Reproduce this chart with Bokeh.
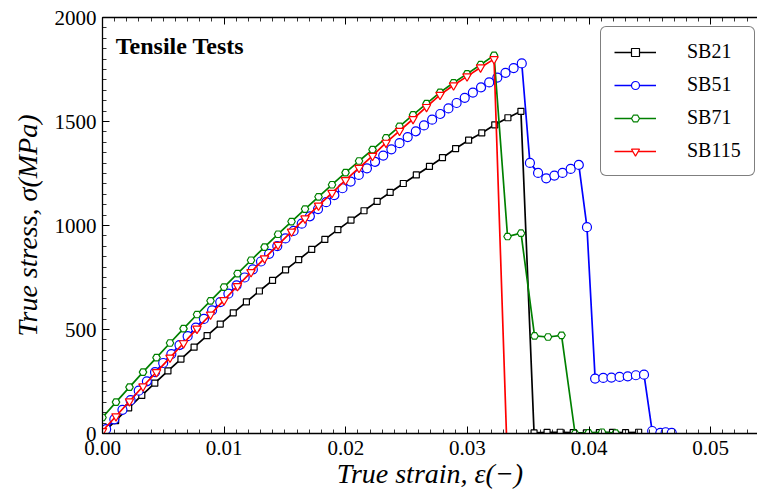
from bokeh.plotting import figure
from bokeh.models import (Range1d, LinearAxis, SingleIntervalTicker, PrintfTickFormatter,
                          CustomJSTickFormatter, Legend, LegendItem, Label)
from bokeh.embed import file_html
from bokeh.resources import INLINE

# ---------------- data ----------------
sb21_strain = [0.0, 0.00108, 0.00215, 0.00323, 0.0043, 0.00538, 0.00645, 0.00753, 0.0086, 0.00968,
               0.01075, 0.01183, 0.0129, 0.01398, 0.01505, 0.01613, 0.0172, 0.01828, 0.01935, 0.02043,
               0.0215, 0.02258, 0.02365, 0.02473, 0.0258, 0.02688, 0.02795, 0.02903, 0.0301, 0.03118,
               0.03225, 0.03333, 0.0344,
               0.03548, 0.03655, 0.03763, 0.0387, 0.03978, 0.04085, 0.04193, 0.043, 0.04408]
sb21_stress = [0, 62, 123, 183, 242, 301, 358, 415, 471, 526,
               580, 633, 685, 736, 787, 836, 885, 933, 980, 1026,
               1071, 1116, 1159, 1202, 1243, 1284, 1326, 1370, 1410, 1445,
               1484, 1518, 1549,
               3, 5, 6, 4, 3, 4, 5, 4, 6]

sb51_strain = [0.0003, 0.00097, 0.00164, 0.00231, 0.00298, 0.00365, 0.00432, 0.00499, 0.00566, 0.00633,
               0.007, 0.00767, 0.00834, 0.00901, 0.00968, 0.01035, 0.01102, 0.01169, 0.01236, 0.01303,
               0.0137, 0.01437, 0.01504, 0.01571, 0.01638, 0.01705, 0.01772, 0.01839, 0.01906, 0.01973,
               0.0204, 0.02107, 0.02174, 0.02241, 0.02308, 0.02375, 0.02442, 0.02509, 0.02576, 0.02643,
               0.0271, 0.02777, 0.02844, 0.02911, 0.02978, 0.03045, 0.03112, 0.03179, 0.03246, 0.03313,
               0.0338, 0.03447,
               0.03514, 0.03581, 0.03648, 0.03715, 0.03782, 0.03849, 0.03916, 0.03983, 0.0405, 0.04117,
               0.04184, 0.04251, 0.04318, 0.04385, 0.04452, 0.04519, 0.04586, 0.0463, 0.0468]
sb51_stress = [21, 68, 114, 160, 206, 251, 295, 339, 382, 425,
               468, 509, 551, 592, 632, 672, 712, 750, 789, 827,
               864, 901, 938, 974, 1009, 1044, 1079, 1112, 1146, 1179,
               1211, 1243, 1275, 1306, 1336, 1366, 1396, 1425, 1453, 1481,
               1509, 1536, 1563, 1589, 1614, 1639, 1664, 1688, 1711, 1734,
               1757, 1779,
               1301, 1253, 1227, 1240, 1253, 1272, 1291, 992, 264, 267,
               269, 272, 275, 280, 283, 12, 3, 6, 3]

sb71_strain = [0.0, 0.00111, 0.00222, 0.00333, 0.00444, 0.00555, 0.00666, 0.00777, 0.00888, 0.00999,
               0.0111, 0.01221, 0.01332, 0.01443, 0.01554, 0.01665, 0.01776, 0.01887, 0.01998, 0.02109,
               0.0222, 0.02331, 0.02442, 0.02553, 0.02664, 0.02775, 0.02886, 0.02997, 0.03108, 0.03219,
               0.0333, 0.03441, 0.03552, 0.03663, 0.03774, 0.03885, 0.03996, 0.04107, 0.04218]
sb71_stress = [77, 151, 223, 295, 365, 435, 504, 572, 638, 704,
               769, 833, 896, 958, 1019, 1079, 1138, 1196, 1254, 1310,
               1365, 1421, 1477, 1532, 1586, 1640, 1686, 1729, 1773, 1818,
               947, 963, 469, 464, 472, 0, 3, 6, 2]

sb115_strain = [0.0, 0.00111, 0.00222, 0.00333, 0.00444, 0.00555, 0.00666, 0.00777, 0.00888, 0.00999,
                0.0111, 0.01221, 0.01332, 0.01443, 0.01554, 0.01665, 0.01776, 0.01887, 0.01998, 0.02109,
                0.0222, 0.02331, 0.02442, 0.02553, 0.02664, 0.02775, 0.02886, 0.02997, 0.03108, 0.03219,
                0.03338]
sb115_stress = [12, 83, 155, 227, 295, 365, 434, 504, 572, 641,
                709, 776, 842, 907, 971, 1034, 1096, 1157, 1218, 1277,
                1335, 1398, 1455, 1512, 1570, 1628, 1674, 1717, 1760, 1800,
                -300]

x_ticks_interval = 0.01
y_ticks_interval = 500
series_names = ["SB21", "SB51", "SB71", "SB115"]
title_text = "Tensile Tests"
x_label_text = "True strain, ε(−)"
y_label_text = "True stress, σ(MPa)"

# ---------------- figure ----------------
FONT = "Liberation Serif"

p = figure(width=757, height=496, output_backend="svg", toolbar_location=None,
           x_range=Range1d(0, 0.05385), y_range=Range1d(0, 2000),
           x_axis_type=None, y_axis_type=None,
           min_border_left=102, min_border_right=0, min_border_top=17, min_border_bottom=63)
p.outline_line_color = None
p.background_fill_color = "white"
p.border_fill_color = "white"


def make_axis(ticker, formatter):
    ax = LinearAxis(ticker=ticker, formatter=formatter)
    ax.major_tick_in = 7
    ax.major_tick_out = 0
    ax.minor_tick_in = 4
    ax.minor_tick_out = 0
    ax.axis_line_color = "black"
    ax.axis_line_width = 1.3
    ax.major_tick_line_color = "black"
    ax.minor_tick_line_color = "black"
    ax.major_tick_line_width = 1
    ax.minor_tick_line_width = 0.8
    ax.major_label_text_font = FONT
    ax.major_label_text_font_size = "21px"
    ax.major_label_text_color = "black"
    ax.axis_label_text_font = FONT
    ax.axis_label_text_font_size = "28px"
    ax.axis_label_text_font_style = "italic"
    ax.axis_label_text_color = "black"
    return ax


xb = make_axis(SingleIntervalTicker(interval=x_ticks_interval, num_minor_ticks=10),
               PrintfTickFormatter(format="%.2f"))
xb.major_label_standoff = 7
xb.axis_label = x_label_text
xb.axis_label_standoff = 0
yl = make_axis(SingleIntervalTicker(interval=y_ticks_interval, num_minor_ticks=10),
               PrintfTickFormatter(format="%d"))
yl.major_label_standoff = 6
yl.axis_label = y_label_text
yl.axis_label_standoff = 9
xt = make_axis(SingleIntervalTicker(interval=x_ticks_interval, num_minor_ticks=10),
               CustomJSTickFormatter(code="return ''"))
xt.major_label_standoff = 0
p.add_layout(xb, "below")
p.add_layout(yl, "left")
p.add_layout(xt, "above")

LW = 1.7
styles = [
    (sb21_strain, sb21_stress, "#000000", "square", 6),
    (sb51_strain, sb51_stress, "#0000ff", "circle", 9),
    (sb71_strain, sb71_stress, "#008000", "hex", 7.5),
    (sb115_strain, sb115_stress, "#ff0000", "inverted_triangle", 8.5),
]
items = []
for name, (xs, ys, col, mk, sz) in zip(series_names, styles):
    lr = p.line(xs, ys, line_color=col, line_width=LW)
    sr = p.scatter(xs, ys, marker=mk, size=sz, line_color=col, line_width=1.2,
                   fill_color="white")
    items.append(LegendItem(label=name, renderers=[lr, sr]))

legend = Legend(items=items, location=(498, 257))
legend.label_text_font = FONT
legend.label_text_font_size = "20px"
legend.label_text_color = "black"
legend.glyph_width = 42
legend.glyph_height = 20
legend.label_height = 20
legend.label_width = 54
legend.spacing = 10
legend.padding = 13
legend.margin = 0
legend.label_standoff = 31
legend.border_line_color = "black"
legend.border_line_width = 1
legend.background_fill_color = "white"
legend.background_fill_alpha = 1
try:
    legend.border_radius = 6
except AttributeError:
    pass
p.add_layout(legend)

p.add_layout(Label(x=13.3, y=387.3, x_units="screen", y_units="screen", text=title_text,
                   text_font=FONT, text_font_size="24px", text_font_style="bold",
                   text_color="black", text_baseline="alphabetic"))

with open("out.html", "w", encoding="utf-8") as f:
    f.write(file_html(p, INLINE))
